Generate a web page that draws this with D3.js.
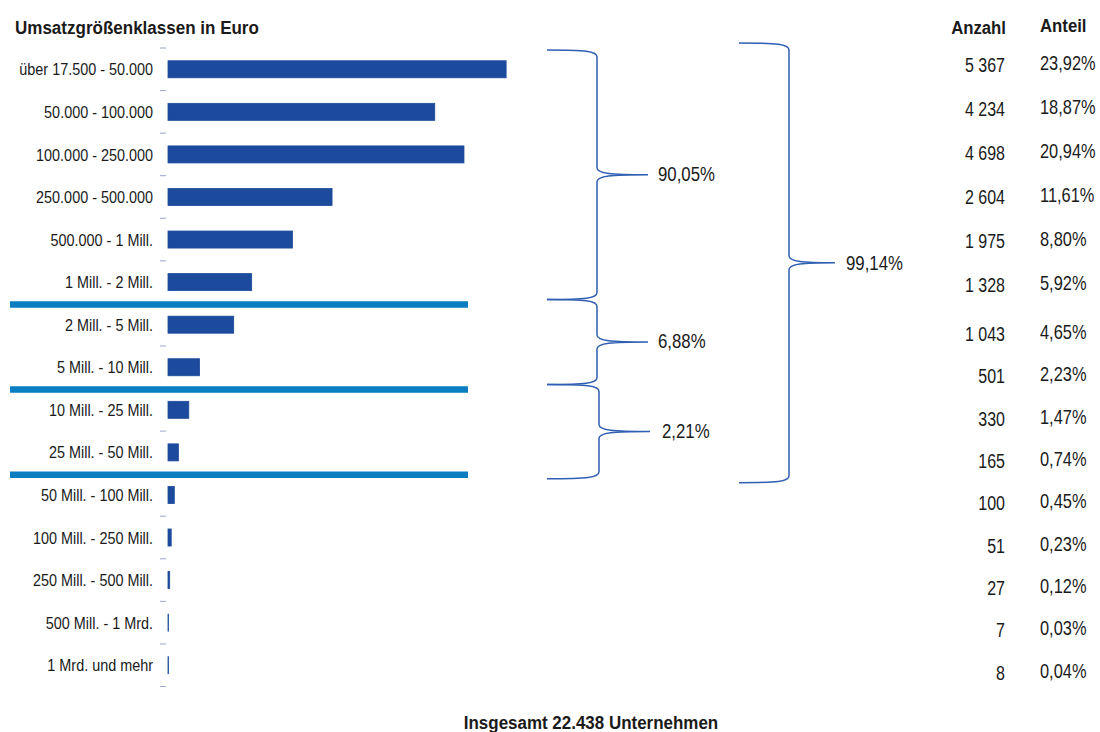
<!DOCTYPE html>
<html><head><meta charset="utf-8">
<script src="https://cdn.jsdelivr.net/npm/d3@7"></script>
<style>
html,body{margin:0;padding:0;background:#fff;}
svg{display:block;}
text{font-family:"Liberation Sans",Arial,sans-serif;fill:#1a1a1a;}
</style></head>
<body>
<svg id="chart" width="1100" height="732"></svg>
<script>
// ---- data ----
const categories = ["über 17.500 - 50.000","50.000 - 100.000","100.000 - 250.000","250.000 - 500.000","500.000 - 1 Mill.","1 Mill. - 2 Mill.","2 Mill. - 5 Mill.","5 Mill. - 10 Mill.","10 Mill. - 25 Mill.","25 Mill. - 50 Mill.","50 Mill. - 100 Mill.","100 Mill. - 250 Mill.","250 Mill. - 500 Mill.","500 Mill. - 1 Mrd.","1 Mrd. und mehr"];
const anzahl = [5367,4234,4698,2604,1975,1328,1043,501,330,165,100,51,27,7,8];
const anteil = [23.92,18.87,20.94,11.61,8.80,5.92,4.65,2.23,1.47,0.74,0.45,0.23,0.12,0.03,0.04];
const separatorsAfter = [5,7,9];          // group boundaries (after row index)
const groupBraces = [ {from:0,to:5,label:"90,05%"}, {from:6,to:7,label:"6,88%"}, {from:8,to:9,label:"2,21%"} ];
const totalBrace = {from:0,to:9,label:"99,14%"};
const title = "Umsatzgrößenklassen in Euro";
const colHeads = ["Anzahl","Anteil"];
const footer = "Insgesamt 22.438 Unternehmen";

const svg = d3.select("#chart");
const barColor = "#1c4a9c", sepColor = "#0b7dc1", braceColor = "#2f5fb3";

const y = d3.scaleBand().domain(d3.range(categories.length)).range([48, 686.5]).paddingInner(0.6).paddingOuter(0.3);
const x = d3.scaleLinear().domain([0,6000]).range([168,546]);
const yBound = i => 48 + i*y.step();   // band boundary
const yRow = d3.scaleLinear().domain([0,5,6,14]).range([64.5,285,334,672.5]);   // table rows

// condensed text helper
function txt(g, xx, yy, s, o){
  return g.append("text")
    .attr("transform",`translate(${xx},${yy}) scale(${o.sx||1},1)`)
    .attr("text-anchor",o.anchor||"start")
    .attr("dy",o.dy||null)
    .attr("font-size",o.fs)
    .attr("font-weight",o.bold?"bold":null)
    .text(s);
}

// title
txt(svg,15,34,title,{fs:18.5,sx:0.92,bold:true});

// axis ticks (band boundaries)
svg.append("g").selectAll("line").data(d3.range(categories.length+1)).join("line")
  .attr("x1",160).attr("x2",166).attr("y1",d=>yBound(d)).attr("y2",d=>yBound(d))
  .attr("stroke","#9aa6cc").attr("stroke-width",1);

// labels
const gl = svg.append("g");
categories.forEach((c,i)=>txt(gl,153,y(i)+y.bandwidth()/2+0.5,c,{fs:16,sx:0.9,anchor:"end",dy:"0.35em"}));

// bars
svg.append("g").selectAll("rect").data(anzahl).join("rect")
  .attr("x",x(0)).attr("y",(d,i)=>y(i)).attr("width",d=>x(d)-x(0)).attr("height",y.bandwidth())
  .attr("fill",barColor).attr("stroke",barColor).attr("stroke-width",0.8);

// separators
svg.append("g").selectAll("line").data(separatorsAfter).join("line")
  .attr("x1",10).attr("x2",468).attr("y1",d=>yBound(d+1)+1).attr("y2",d=>yBound(d+1)+1)
  .attr("stroke",sepColor).attr("stroke-width",6.5);

// braces
function bracePath(x0, xv, xt, yt, yb){
  const ym=(yt+yb)/2, r=7;
  return `M${x0},${yt} C${xv-12},${yt} ${xv},${yt+1} ${xv},${yt+r}`+
    ` L${xv},${ym-r} C${xv},${ym-1} ${xv+14},${ym} ${xt},${ym}`+
    ` C${xv+14},${ym} ${xv},${ym+1} ${xv},${ym+r}`+
    ` L${xv},${yb-r} C${xv},${yb-1} ${xv-12},${yb} ${x0},${yb}`;
}
const gb = svg.append("g");
groupBraces.forEach((b,i)=>{
  const yt = yBound(b.from)+ (i===0?2:-4), yb = yBound(b.to+1)+ (i===2?5:-4);
  const xv = 597 + (i===2?2:0);
  gb.append("path").attr("d",bracePath(547,xv,xv+51,yt,yb)).attr("fill","none").attr("stroke",braceColor).attr("stroke-width",1.5);
  txt(gb,658+(i===2?4:0),(yt+yb)/2-1,b.label,{fs:21,sx:0.8,dy:"0.35em"});
});
{
  const yt = yBound(totalBrace.from)-5, yb = yBound(totalBrace.to+1)+9;
  gb.append("path").attr("d",bracePath(739,789,835,yt,yb)).attr("fill","none").attr("stroke",braceColor).attr("stroke-width",1.5);
  txt(gb,846,(yt+yb)/2,totalBrace.label,{fs:21,sx:0.8,dy:"0.35em"});
}

// table
txt(svg,1006,33.5,colHeads[0],{fs:18.6,sx:0.9,bold:true,anchor:"end"});
txt(svg,1040,32,colHeads[1],{fs:18.6,sx:0.9,bold:true});
const fmtN = d => d3.format(",")(d).replace(/,/g," ");
const fmtP = d => d3.format(".2f")(d).replace(".",",")+"%";
const gt = svg.append("g");
anzahl.forEach((v,i)=>txt(gt,1005,yRow(i),fmtN(v),{fs:20,sx:0.8,anchor:"end",dy:"0.35em"}));
anteil.forEach((v,i)=>txt(gt,1040,yRow(i)-2,fmtP(v),{fs:20,sx:0.82,dy:"0.35em"}));

// footer
txt(svg,591,729,footer,{fs:17.5,sx:0.97,bold:true,anchor:"middle"});
</script>
</body></html>
